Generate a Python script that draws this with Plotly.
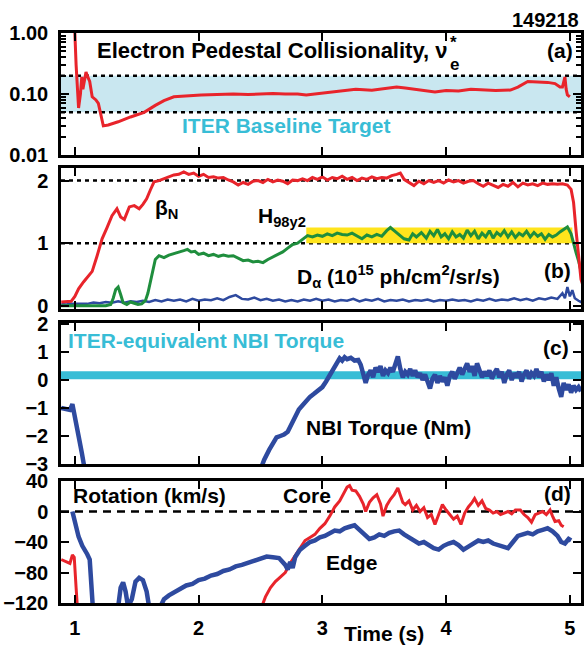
import plotly.graph_objects as go

# ---------------- data ----------------
# (a) electron pedestal collisionality
NU_T = [0.99, 1.00, 1.01, 1.03, 1.045, 1.056, 1.065, 1.075, 1.09, 1.10, 1.12, 1.14, 1.17, 1.19,
        1.215, 1.23, 1.27, 1.35, 1.45, 1.56, 1.65, 1.72, 1.80, 1.90, 2.02, 2.15, 2.28, 2.40, 2.50,
        2.60, 2.70, 2.80, 2.87, 2.95, 3.05, 3.15, 3.27, 3.40, 3.50, 3.60, 3.67, 3.75, 3.85, 3.91,
        4.00, 4.10, 4.20, 4.30, 4.40, 4.52, 4.58, 4.66, 4.74, 4.82, 4.88, 4.92, 4.94, 4.96, 4.97,
        4.98, 5.00]
NU_V = [1.5, 1.0, 0.3, 0.059, 0.1, 0.19, 0.12, 0.15, 0.23, 0.2, 0.16, 0.09, 0.08, 0.07,
        0.04, 0.03, 0.031, 0.035, 0.042, 0.05, 0.065, 0.078, 0.09, 0.093, 0.096, 0.098, 0.1, 0.098, 0.1,
        0.102, 0.1, 0.1, 0.096, 0.1, 0.108, 0.112, 0.12, 0.115, 0.122, 0.13, 0.125, 0.118, 0.112, 0.108,
        0.114, 0.112, 0.12, 0.116, 0.114, 0.116, 0.13, 0.16, 0.158, 0.155, 0.148, 0.13, 0.13, 0.19, 0.12,
        0.097, 0.09]
NU_TARGET = [0.05, 0.2]

# (b) beta_N, H98y2, D-alpha
BN_T = [0.89, 0.93, 0.97, 1.00, 1.03, 1.07, 1.11, 1.14, 1.18, 1.22, 1.26, 1.30, 1.34, 1.37, 1.40,
        1.44, 1.48, 1.52, 1.55, 1.58, 1.61, 1.64, 1.68, 1.72, 1.76, 1.80, 1.84, 1.88, 1.92, 1.96,
        2.00, 2.04, 2.08, 2.12, 2.16, 2.20, 2.24, 2.28, 2.32, 2.36, 2.40, 2.44, 2.48, 2.52, 2.56,
        2.60, 2.64, 2.68, 2.72, 2.76, 2.80, 2.84, 2.88, 2.92, 2.96, 3.00, 3.04, 3.08, 3.12, 3.16,
        3.20, 3.24, 3.28, 3.32, 3.36, 3.40, 3.44, 3.48, 3.52, 3.56, 3.60, 3.63, 3.66, 3.70, 3.74,
        3.78, 3.82, 3.86, 3.90, 3.94, 3.98, 4.02, 4.06, 4.10, 4.14, 4.18, 4.22, 4.26, 4.30, 4.34,
        4.38, 4.42, 4.46, 4.50, 4.54, 4.58, 4.62, 4.66, 4.70, 4.74, 4.78, 4.82, 4.86, 4.90, 4.94,
        4.98, 5.01, 5.03, 5.05, 5.07, 5.09, 5.11]
BN_V = [0.06, 0.06, 0.07, 0.15, 0.27, 0.38, 0.48, 0.55, 0.8, 1.07, 1.25, 1.44, 1.55, 1.42, 1.38,
        1.58, 1.6, 1.55, 1.62, 1.71, 1.85, 1.98, 2.0, 2.03, 2.06, 2.09, 2.1, 2.14, 2.1, 2.12,
        2.07, 2.1, 2.05, 2.06, 2.04, 2.05, 2.01, 1.98, 1.93, 1.97, 1.94, 1.99, 2.0, 1.97, 2.02,
        1.98, 2.01, 1.99, 1.95, 2.01, 2.0, 2.03, 2.0, 2.05, 2.02, 2.06, 2.01, 2.05, 2.03, 2.07,
        2.02, 2.05, 2.0, 2.04, 2.02, 2.06, 2.03, 2.05, 2.04, 2.08, 2.1, 2.12, 2.02, 1.97, 1.92,
        1.99, 1.95, 2.0, 1.97, 2.0, 1.96, 2.01, 1.98, 2.0, 1.96, 1.99, 2.0, 1.95, 1.91, 1.96,
        1.92, 1.89, 1.94, 1.91, 1.97, 1.9, 1.96, 1.93, 1.95, 1.92, 1.96, 1.94, 1.95, 1.94, 1.95,
        1.93, 1.86, 1.65, 1.2, 0.75, 0.42, 0.3]

H_T = [0.89, 0.95, 1.05, 1.15, 1.25, 1.29, 1.31, 1.33, 1.35, 1.37, 1.39, 1.42, 1.45, 1.48, 1.51,
       1.54, 1.57, 1.59, 1.62, 1.65, 1.68, 1.72, 1.76, 1.80, 1.84, 1.88, 1.91, 1.94, 1.97, 2.00,
       2.04, 2.08, 2.12, 2.16, 2.20, 2.24, 2.28, 2.32, 2.36, 2.40, 2.44, 2.48, 2.52, 2.56, 2.60,
       2.64, 2.68, 2.72, 2.76, 2.80, 2.84, 2.88, 2.92, 2.96, 3.00, 3.04, 3.08, 3.12, 3.16, 3.20,
       3.24, 3.28, 3.32, 3.36, 3.40, 3.44, 3.48, 3.52, 3.55, 3.58, 3.62, 3.66, 3.70, 3.73, 3.76,
       3.80, 3.84, 3.87, 3.90, 3.93, 3.96, 3.99, 4.02, 4.05, 4.08, 4.11, 4.14, 4.17, 4.20, 4.23,
       4.26, 4.29, 4.32, 4.35, 4.38, 4.41, 4.44, 4.47, 4.50, 4.53, 4.56, 4.59, 4.62, 4.65, 4.68,
       4.71, 4.74, 4.77, 4.80, 4.83, 4.86, 4.89, 4.92, 4.95, 4.98, 5.01, 5.03, 5.05, 5.07, 5.09, 5.11]
H_V = [0.0, 0.0, 0.0, 0.01, 0.0, 0.02, 0.12, 0.26, 0.3, 0.18, 0.05, 0.02, 0.06, 0.04, 0.02,
       0.03, 0.08, 0.2, 0.5, 0.74, 0.8, 0.77, 0.81, 0.83, 0.85, 0.88, 0.9, 0.86, 0.87, 0.82,
       0.84, 0.8, 0.82, 0.79, 0.81, 0.79, 0.8, 0.76, 0.72, 0.73, 0.7, 0.71, 0.69, 0.74, 0.78,
       0.81, 0.86, 0.92, 0.98, 1.0, 1.06, 1.12, 1.1, 1.13, 1.11, 1.15, 1.12, 1.16, 1.14, 1.13,
       1.16, 1.12, 1.07, 1.13, 1.1, 1.14, 1.11, 1.2, 1.25, 1.2, 1.14, 1.07, 1.05, 1.15, 1.1,
       1.17, 1.08, 1.19, 1.12, 1.22, 1.1, 1.15, 1.07, 1.18, 1.1, 1.14, 1.08, 1.21, 1.12, 1.19,
       1.07, 1.16, 1.1, 1.2, 1.08, 1.17, 1.12, 1.2, 1.1, 1.18, 1.09, 1.16, 1.12, 1.19, 1.1,
       1.17, 1.11, 1.15, 1.06, 1.14, 1.1, 1.13, 1.18, 1.22, 1.26, 1.15, 0.98, 0.85, 0.72, 0.55, 0.45]
H_BAND_T = [2.87, 5.02]
H_BAND_V = [1.0, 1.25]
BN_REF = [1.0, 2.0]

DA_T = [0.89, 0.93, 0.97, 1.00, 1.05, 1.10, 1.15, 1.20, 1.25, 1.30, 1.35, 1.40, 1.45, 1.50, 1.55,
        1.60, 1.65, 1.70, 1.75, 1.80, 1.85, 1.90, 1.95, 2.00, 2.05, 2.10, 2.15, 2.20, 2.25, 2.30,
        2.35, 2.40, 2.45, 2.50, 2.55, 2.60, 2.65, 2.70, 2.75, 2.80, 2.85, 2.90, 2.95, 3.00, 3.05,
        3.10, 3.15, 3.20, 3.25, 3.30, 3.35, 3.40, 3.45, 3.50, 3.55, 3.60, 3.65, 3.70, 3.75, 3.80,
        3.85, 3.90, 3.95, 4.00, 4.05, 4.10, 4.15, 4.20, 4.25, 4.30, 4.35, 4.40, 4.45, 4.50, 4.55,
        4.60, 4.65, 4.70, 4.75, 4.80, 4.85, 4.90, 4.94, 4.96, 4.98, 5.00, 5.02, 5.04, 5.07, 5.10]
DA_V = [0.03, 0.02, 0.03, 0.03, 0.04, 0.03, 0.05, 0.04, 0.06, 0.05, 0.07, 0.05, 0.07, 0.06, 0.08,
        0.06, 0.09, 0.07, 0.1, 0.08, 0.1, 0.07, 0.11, 0.08, 0.1, 0.09, 0.12, 0.09, 0.14, 0.17,
        0.11, 0.1, 0.13, 0.09, 0.11, 0.08, 0.1, 0.07, 0.09, 0.07, 0.1, 0.08, 0.11, 0.08, 0.1,
        0.07, 0.09, 0.08, 0.11, 0.07, 0.1, 0.08, 0.11, 0.07, 0.09, 0.08, 0.1, 0.07, 0.09, 0.08,
        0.1, 0.07, 0.09, 0.08, 0.1, 0.08, 0.09, 0.07, 0.1, 0.08, 0.11, 0.08, 0.1, 0.09, 0.12,
        0.09, 0.11, 0.08, 0.12, 0.1, 0.13, 0.11, 0.2, 0.12, 0.3, 0.15, 0.25, 0.12, 0.08, 0.05]

# (c) NBI torque (Nm); None marks where the trace leaves the axis window
TQ_T = [0.89, 0.93, 0.96, 0.98, 1.00, 1.03, 1.056, 1.08, 1.09,
        2.49, 2.50, 2.53, 2.57, 2.60, 2.63, 2.66, 2.69, 2.72, 2.75, 2.78, 2.81, 2.84, 2.87, 2.90,
        2.93, 2.96, 3.00, 3.03, 3.06, 3.09, 3.12, 3.14, 3.16, 3.18, 3.20, 3.23, 3.26, 3.29, 3.31,
        3.33, 3.35, 3.37, 3.39, 3.41, 3.43, 3.45, 3.47, 3.49, 3.51, 3.53, 3.55, 3.57, 3.59, 3.61,
        3.63, 3.65, 3.67, 3.69, 3.71, 3.73, 3.75, 3.77, 3.79, 3.81, 3.83, 3.85, 3.87, 3.89, 3.91,
        3.93, 3.95, 3.97, 3.99, 4.01, 4.03, 4.05, 4.07, 4.09, 4.11, 4.13, 4.15, 4.17, 4.19, 4.21,
        4.23, 4.25, 4.27, 4.29, 4.31, 4.33, 4.35, 4.37, 4.39, 4.41, 4.43, 4.45, 4.47, 4.49, 4.51,
        4.53, 4.55, 4.57, 4.59, 4.61, 4.63, 4.65, 4.67, 4.69, 4.71, 4.73, 4.75, 4.77, 4.79, 4.81,
        4.83, 4.85, 4.87, 4.89, 4.91, 4.93, 4.95, 4.97, 4.99, 5.01, 5.03, 5.05, 5.07, 5.09]
TQ_V = [-1.0, -1.02, -1.07, -0.86, -1.4, -2.0, -2.6, -3.2, None,
        None, -3.2, -2.85, -2.5, -2.3, -2.05, -2.0, -1.95, -1.85, -1.6, -1.3, -1.05, -0.9, -0.72, -0.6,
        -0.5, -0.38, -0.25, -0.05, 0.2, 0.4, 0.62, 0.78, 0.7, 0.82, 0.75, 0.8, 0.7, 0.72, 0.55,
        0.25, -0.1, 0.2, 0.35, 0.1, 0.45, 0.3, 0.5, 0.15, 0.35, 0.25, 0.45, 0.3, 0.55, 0.85,
        0.4, 0.1, 0.3, 0.2, 0.4, 0.15, 0.35, 0.1, 0.25, 0.0, 0.2, -0.05, -0.3, 0.05, 0.2,
        -0.1, 0.15, -0.05, 0.1, -0.2, 0.15, 0.3, 0.05, 0.25, 0.45, 0.2, 0.4, 0.6, 0.3, 0.5,
        0.15, 0.6, 0.35, 0.1, 0.3, 0.15, 0.35, 0.05, 0.25, 0.4, 0.1, 0.3, -0.1, 0.2, 0.35,
        0.0, 0.25, 0.1, 0.3, -0.05, 0.2, 0.35, 0.05, 0.25, 0.15, 0.4, 0.1, 0.3, -0.05, 0.2,
        0.0, 0.25, -0.2, 0.1, -0.3, -0.6, -0.1, -0.35, -0.15, -0.45, -0.2, -0.35, -0.25, -0.4]
TQ_ITER = [0.03, 0.32]

# (d) toroidal rotation (km/s)
EDGE_T = [0.98, 1.00, 1.03, 1.06, 1.08, 1.10, 1.12, 1.13, 1.145, 1.15,
          1.34, 1.35, 1.37, 1.39, 1.41, 1.43, 1.46, 1.49, 1.52, 1.55, 1.58, 1.60, 1.61,
          1.68, 1.69, 1.72, 1.76, 1.80, 1.85, 1.90, 1.95, 2.00, 2.05, 2.10, 2.15, 2.20, 2.25,
          2.30, 2.35, 2.40, 2.45, 2.50, 2.55, 2.60, 2.65, 2.70, 2.72, 2.74, 2.76, 2.78, 2.82,
          2.86, 2.90, 2.94, 2.98, 3.02, 3.06, 3.10, 3.14, 3.18, 3.22, 3.26, 3.30, 3.34, 3.38,
          3.42, 3.46, 3.50, 3.54, 3.58, 3.62, 3.66, 3.70, 3.74, 3.78, 3.82, 3.86, 3.90, 3.94,
          3.98, 4.02, 4.06, 4.10, 4.14, 4.18, 4.22, 4.26, 4.30, 4.34, 4.38, 4.42, 4.46, 4.50,
          4.54, 4.58, 4.62, 4.66, 4.70, 4.74, 4.78, 4.82, 4.86, 4.90, 4.93, 4.96, 4.99, 5.01]
EDGE_V = [0, -15, -33, -45, -50, -56, -63, -80, -125, None,
          None, -125, -100, -93, -105, -125, -115, -92, -87, -90, -105, -125, None,
          None, -125, -115, -110, -106, -102, -97, -95, -90, -88, -84, -82, -78, -76,
          -72, -70, -67, -64, -61, -59, -60, -61, -70, -76, -66, -74, -60, -50,
          -45, -40, -38, -34, -32, -28, -25, -26, -22, -20, -18, -24, -30, -36,
          -34, -30, -32, -28, -26, -25, -30, -34, -38, -42, -40, -44, -48, -50,
          -45, -42, -40, -44, -50, -46, -42, -38, -40, -38, -42, -44, -46, -48,
          -40, -32, -30, -28, -30, -26, -24, -22, -26, -32, -40, -42, -36, -38]

CORE_T = [0.89, 0.93, 0.96, 0.98, 0.995, 1.01, 1.02, 1.03,
          2.50, 2.51, 2.54, 2.58, 2.62, 2.66, 2.70, 2.74, 2.78, 2.82, 2.86, 2.90, 2.94, 2.98,
          3.02, 3.06, 3.10, 3.14, 3.17, 3.20, 3.22, 3.24, 3.27, 3.30, 3.33, 3.35, 3.38, 3.41,
          3.44, 3.47, 3.49, 3.52, 3.55, 3.58, 3.61, 3.63, 3.65, 3.67, 3.70, 3.73, 3.76, 3.79,
          3.82, 3.85, 3.88, 3.91, 3.94, 3.97, 4.00, 4.03, 4.06, 4.09, 4.12, 4.15, 4.18, 4.21,
          4.23, 4.26, 4.29, 4.32, 4.35, 4.38, 4.41, 4.44, 4.47, 4.50, 4.53, 4.56, 4.60, 4.63,
          4.66, 4.69, 4.72, 4.75, 4.78, 4.81, 4.84, 4.86, 4.88, 4.91, 4.93, 4.95]
CORE_V = [-63, -66, -68, -57, -60, -100, -125, None,
          None, -125, -112, -100, -92, -86, -80, -68, -58, -48, -38, -34, -30, -22,
          -16, -6, 6, 14, 24, 32, 34, 28, 27, 20, 10, 0, 12, 18,
          22, 10, -6, 8, 16, 22, 31, 22, 12, 9, 14, 2, 8, 0,
          5, -8, -4, -17, -4, 9, 2, -4, -10, -6, -17, -2, 6, 12,
          17, 8, 14, 4, 2, -2, 0, -4, -2, 0, -3, 2, 2, -4,
          -8, -14, -4, -2, 0, -4, 2, -6, -13, -12, -18, -20]
ROT_REF = [0]

# ---------------- styling ----------------
FONT = "Liberation Sans, Arial, Helvetica, sans-serif"
RED = "#e8242b"
GREEN = "#1f8e3d"
BLUE = "#2e4a9f"
CYAN = "#38bdd6"
LIGHTBLUE = "#c9e7f0"
YELLOW = "#ffe41c"
X_RANGE = [0.888, 5.09]
DOTS = dict(color="black", width=2.5, dash="4px,4px")

fig = go.Figure()

# ITER baseline collisionality window, drawn as a filled band between two dotted levels
fig.add_trace(go.Scatter(x=X_RANGE, y=[NU_TARGET[0]] * 2, mode="lines", line=DOTS,
                         xaxis="x", yaxis="y", hoverinfo="skip"))
fig.add_trace(go.Scatter(x=X_RANGE, y=[NU_TARGET[1]] * 2, mode="lines", line=DOTS,
                         fill="tonexty", fillcolor=LIGHTBLUE, xaxis="x", yaxis="y",
                         hoverinfo="skip"))
fig.add_trace(go.Scatter(x=NU_T, y=NU_V, mode="lines", line=dict(color=RED, width=3),
                         xaxis="x", yaxis="y"))

fig.add_trace(go.Scatter(x=DA_T, y=DA_V, mode="lines", line=dict(color=BLUE, width=2.5),
                         xaxis="x2", yaxis="y2"))
fig.add_trace(go.Scatter(x=H_T, y=H_V, mode="lines", line=dict(color=GREEN, width=3),
                         xaxis="x2", yaxis="y2"))
fig.add_trace(go.Scatter(x=BN_T, y=BN_V, mode="lines", line=dict(color=RED, width=3),
                         xaxis="x2", yaxis="y2"))
fig.add_trace(go.Scatter(x=TQ_T, y=TQ_V, mode="lines", line=dict(color=BLUE, width=4.5),
                         connectgaps=False, xaxis="x3", yaxis="y3"))
fig.add_trace(go.Scatter(x=CORE_T, y=CORE_V, mode="lines", line=dict(color=RED, width=3),
                         connectgaps=False, xaxis="x4", yaxis="y4"))
fig.add_trace(go.Scatter(x=EDGE_T, y=EDGE_V, mode="lines", line=dict(color=BLUE, width=4.5),
                         connectgaps=False, xaxis="x4", yaxis="y4"))

shapes = []
# H98y2 target band and reference levels
shapes.append(dict(type="rect", xref="x2", yref="y2", x0=H_BAND_T[0], x1=H_BAND_T[1],
                   y0=H_BAND_V[0], y1=H_BAND_V[1], fillcolor=YELLOW, line=dict(width=0),
                   layer="below"))
for v in BN_REF:
    shapes.append(dict(type="line", xref="x2 domain", yref="y2", x0=0, x1=1, y0=v, y1=v,
                       line=DOTS, layer="below"))
# ITER-equivalent torque
shapes.append(dict(type="rect", xref="x3 domain", yref="y3", x0=0, x1=1,
                   y0=TQ_ITER[0], y1=TQ_ITER[1], fillcolor=CYAN, line=dict(width=0),
                   layer="below"))
# zero rotation
for v in ROT_REF:
    shapes.append(dict(type="line", xref="x4 domain", yref="y4", x0=0, x1=1, y0=v, y1=v,
                       line=dict(color="black", width=2.5, dash="8px,6px"), layer="below"))

TXT = dict(family=FONT, size=21, color="black", weight="bold")


def label(text, x, y, xref, yref, anchor="left", font=None):
    return dict(text=text, x=x, y=y, xref=xref, yref=yref, xanchor=anchor, yanchor="middle",
                showarrow=False, borderpad=0, font=font or TXT)


annotations = [
    dict(text="149218", x=1, y=1.0, xref="x domain", yref="paper", xanchor="right",
         yanchor="bottom", yshift=0, showarrow=False,
         font=dict(family=FONT, size=20, color="black", weight="bold")),
    label("Electron Pedestal Collisionality, ν", 1.17, -0.28, "x", "y",
          font=dict(family=FONT, size=22, color="black", weight="bold")),
    # stacked superscript star over subscript e
    dict(text="*<br>e", x=4.02, y=-0.33, xref="x", yref="y", xanchor="left", yanchor="middle",
         align="left", showarrow=False, borderpad=0,
         font=dict(family=FONT, size=17, color="black", weight="bold")),
    label("(a)", 5.03, -0.28, "x", "y", anchor="right"),
    label("ITER Baseline Target", 2.71, -1.51, "x", "y", anchor="center",
          font=dict(family=FONT, size=21, color=CYAN, weight="bold")),
    label("β<sub>N</sub>", 1.64, 1.55, "x2", "y2"),
    label("H<sub>98y2</sub>", 2.47, 1.42, "x2", "y2"),
    label("D<sub>α</sub> (10<sup>15</sup> ph/cm<sup>2</sup>/sr/s)", 2.79, 0.47, "x2", "y2"),
    label("(b)", 5.02, 0.57, "x2", "y2", anchor="right"),
    label("ITER-equivalent NBI Torque", 0.936, 1.43, "x3", "y3",
          font=dict(family=FONT, size=21, color=CYAN, weight="bold")),
    label("(c)", 5.0, 1.18, "x3", "y3", anchor="right"),
    label("NBI Torque (Nm)", 2.856, -1.71, "x3", "y3"),
    label("Rotation (km/s)", 0.976, 21, "x4", "y4"),
    label("Core", 2.67, 21, "x4", "y4"),
    label("(d)", 5.02, 24, "x4", "y4", anchor="right"),
    label("Edge", 3.02, -67, "x4", "y4"),
    dict(text="Time (s)", x=3.5, y=0, xref="x4", yref="paper", xanchor="center",
         yanchor="top", yshift=-17, showarrow=False, font=TXT),
]

TICKFONT = dict(family=FONT, size=20, color="black", weight="bold")
AX = dict(showline=True, linecolor="black", linewidth=2.5, mirror="ticks", ticks="inside",
          ticklen=8, tickwidth=2, tickcolor="black", showgrid=False, zeroline=False,
          tickfont=TICKFONT)
XTICKS = [1, 2, 3, 4, 5]


def xaxis(anchor, labels):
    return dict(AX, range=X_RANGE, anchor=anchor, tickvals=XTICKS, showticklabels=labels,
                ticklabelstandoff=5)


LOG_MINOR = [0.02, 0.03, 0.04, 0.05, 0.06, 0.07, 0.08, 0.09,
             0.2, 0.3, 0.4, 0.5, 0.6, 0.7, 0.8, 0.9]

fig.update_layout(
    width=587, height=647,
    margin=dict(l=59, r=3, t=33, b=44),
    paper_bgcolor="white", plot_bgcolor="white",
    showlegend=False,
    shapes=shapes,
    annotations=annotations,
    xaxis=xaxis("y", False),
    xaxis2=xaxis("y2", False),
    xaxis3=xaxis("y3", False),
    xaxis4=xaxis("y4", True),
    yaxis=dict(AX, type="log", range=[-2, 0], domain=[0.786, 1.0],
               tickvals=[0.01, 0.1, 1], ticktext=["0.01", "0.10", "1.00"],
               ticklabelstandoff=6,
               minor=dict(ticks="inside", ticklen=5, tickwidth=1.5, tickcolor="black",
                          tickvals=LOG_MINOR)),
    yaxis2=dict(AX, range=[-0.05, 2.2], domain=[0.516, 0.763], tickvals=[0, 1, 2],
                ticklabelstandoff=6),
    yaxis3=dict(AX, range=[-3, 2.04], domain=[0.244, 0.491],
                tickvals=[-3, -2, -1, 0, 1, 2], ticklabelstandoff=6),
    yaxis4=dict(AX, range=[-120, 40], domain=[0.0, 0.214],
                tickvals=[-120, -80, -40, 0, 40], ticklabelstandoff=6),
)

fig.write_html("out.html")
